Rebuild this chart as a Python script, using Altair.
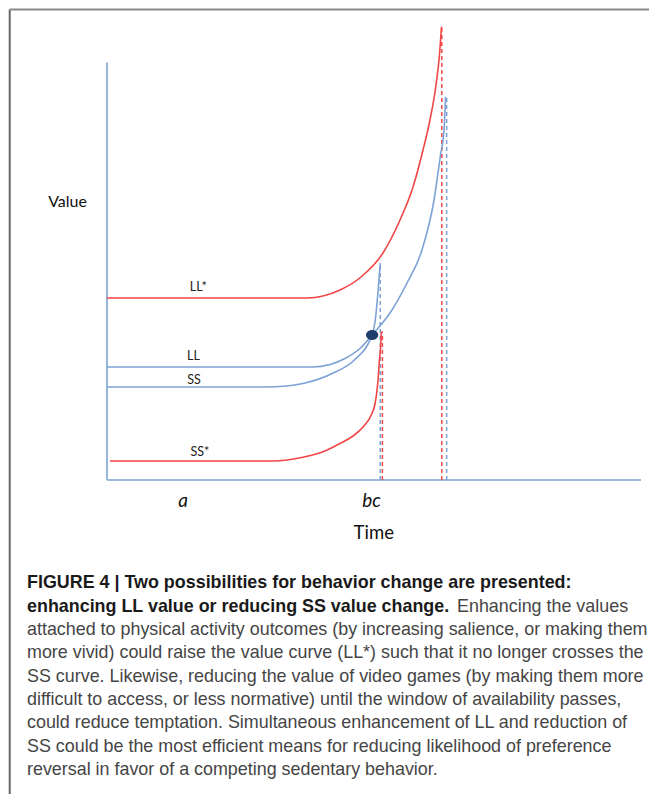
import altair as alt
import pandas as pd

# ---------------- data ----------------
# time (0..100) and value (0..115) coordinates of each discount curve
LLSTAR_T = [0, 37.22, 40.0, 43.15, 47.04, 51.11, 54.26, 56.67, 58.52, 59.81, 60.93, 61.57, 61.94]
LLSTAR_V = [45.5, 45.5, 46.0, 47.5, 50.75, 56.75, 65.0, 73.25, 82.5, 90.0, 98.75, 106.25, 113.3]

LL_T = [0, 38.15, 41.30, 44.07, 46.85, 49.07, 52.41, 55.56, 58.33, 60.56, 61.76, 62.41, 62.7]
LL_V = [28.25, 28.25, 28.88, 30.38, 32.88, 36.25, 41.75, 49.25, 57.5, 70.0, 81.25, 87.5, 95.8]

SS_T = [0, 29.6, 33.15, 36.5, 41.8, 45.8, 49.07, 49.63, 50.6]
SS_V = [23.25, 23.25, 23.5, 24.2, 26.7, 30.0, 36.25, 39.5, 54.2]

SSSTAR_T = [0.56, 30.56, 36.48, 40.37, 43.15, 45.56, 47.41, 49.02, 49.63, 49.96, 50.24, 50.44, 50.67, 50.80]
SSSTAR_V = [4.75, 4.75, 5.75, 7.25, 9.13, 11.0, 13.25, 16.5, 19.0, 22.0, 25.75, 29.75, 33.25, 37.07]

CURVE_NAMES = ["LL*", "LL", "SS", "SS*"]

# vertical dashed markers (time, top value, colour key)
DASH_T = [50.6, 51.0, 62.0, 62.9]
DASH_TOP = [54.2, 37.1, 113.3, 95.8]
DASH_KIND = ["blue", "red", "red", "blue"]

# preference-reversal point
DOT_T = [49.1]
DOT_V = [36.25]

# curve labels
LABELS = ["LL*", "LL", "SS", "SS*"]
LABEL_T = [16.9, 16.0, 16.1, 17.2]
LABEL_V = [48.3, 31.0, 25.1, 7.0]

# axis annotation texts
AXIS_TEXT = ["Value", "a", "bc", "Time"]
AXIS_T = [-7.3, 14.1, 49.0, 49.4]
AXIS_V = [69.6, -5.25, -5.25, -13.25]
AXIS_SIZE = [16, 19, 19, 18.5]
AXIS_ITALIC = [False, True, True, False]

# axis line extents
YAXIS_TOP = 104.4
XAXIS_END = 98.9

CAPTION_BOLD = [
    "FIGURE 4 | Two possibilities for behavior change are presented:",
    "enhancing LL value or reducing SS value change.",
]
CAPTION_LINE2_REST = "Enhancing the values"
CAPTION_REST = [
    "attached to physical activity outcomes (by increasing salience, or making them",
    "more vivid) could raise the value curve (LL*) such that it no longer crosses the",
    "SS curve. Likewise, reducing the value of video games (by making them more",
    "difficult to access, or less normative) until the window of availability passes,",
    "could reduce temptation. Simultaneous enhancement of LL and reduction of",
    "SS could be the most efficient means for reducing likelihood of preference",
    "reversal in favor of a competing sedentary behavior.",
]

# ---------------- styling ----------------
RED = "#F24545"
BLUE = "#7DA2D6"
DOT = "#1E3D6B"
W, H = 540, 460
xs = alt.Scale(domain=[0, 100], nice=False, zero=False)
ys = alt.Scale(domain=[0, 115], nice=False, zero=False)
X = lambda f: alt.X(f, type="quantitative", scale=xs, axis=None)
Y = lambda f: alt.Y(f, type="quantitative", scale=ys, axis=None)

rows = []
for name, ts, vs in zip(CURVE_NAMES, [LLSTAR_T, LL_T, SS_T, SSSTAR_T],
                        [LLSTAR_V, LL_V, SS_V, SSSTAR_V]):
    for i, (t, v) in enumerate(zip(ts, vs)):
        rows.append({"curve": name, "t": t, "v": v, "o": i})
curves = pd.DataFrame(rows)

curve_layer = alt.Chart(curves).mark_line(strokeWidth=1.6, interpolate="monotone").encode(
    x=X("t"), y=Y("v"),
    color=alt.Color("curve:N", scale=alt.Scale(domain=CURVE_NAMES, range=[RED, BLUE, BLUE, RED]), legend=None),
    detail="curve:N",
    order="o:Q",
)

axes_df = pd.DataFrame({"t": [0, 0], "t2": [0, XAXIS_END], "v": [0, 0], "v2": [YAXIS_TOP, 0]})
axes_layer = alt.Chart(axes_df).mark_rule(color=BLUE, strokeWidth=1.6).encode(
    x=X("t"), x2="t2", y=Y("v"), y2="v2")

dash_df = pd.DataFrame({"t": DASH_T, "top": DASH_TOP, "bottom": [0] * len(DASH_T),
                        "col": [RED if k == "red" else BLUE for k in DASH_KIND]})
dash_layer = alt.Chart(dash_df).mark_rule(strokeWidth=1.5, strokeDash=[4, 3]).encode(
    x=X("t"), y=Y("bottom"), y2="top", color=alt.Color("col:N", scale=None))

ELLIPSE = "M -1 0 A 1 0.82 0 1 0 1 0 A 1 0.82 0 1 0 -1 0 Z"
dot_layer = alt.Chart(pd.DataFrame({"t": DOT_T, "v": DOT_V})).mark_point(
    filled=True, shape=ELLIPSE, size=150, color=DOT, opacity=1).encode(x=X("t"), y=Y("v"))

lab_layer = alt.Chart(pd.DataFrame({"t": LABEL_T, "v": LABEL_V, "s": LABELS})).mark_text(
    font="Lato", fontSize=12.5, color="#222222").encode(x=X("t"), y=Y("v"), text="s:N")

ax_layers = []
for s, t, v, size, it in zip(AXIS_TEXT, AXIS_T, AXIS_V, AXIS_SIZE, AXIS_ITALIC):
    ax_layers.append(alt.Chart(pd.DataFrame({"t": [t], "v": [v], "s": [s]})).mark_text(
        font="Lato", fontSize=size, fontStyle="italic" if it else "normal", color="#111111"
    ).encode(x=X("t"), y=Y("v"), text="s:N"))

one = pd.DataFrame({"k": [0]})
frame_left = alt.Chart(one).mark_rule(color="#666666", strokeWidth=2).encode(
    x=alt.value(-97.3), y=alt.value(-10.5), y2=alt.value(800))
frame_top = alt.Chart(one).mark_rule(color="#888888", strokeWidth=2).encode(
    x=alt.value(-97.3), x2=alt.value(560), y=alt.value(-10.5))

CAP_X = -80
CAP_Y0 = 563.3
CAP_DY = 23.35
CAP_FONT = "Liberation Sans"
CAP_SIZE = 17.9
cap_layers = []
for i, line in enumerate(CAPTION_BOLD):
    cap_layers.append(alt.Chart(one).mark_text(
        align="left", baseline="middle", font=CAP_FONT, fontSize=CAP_SIZE, fontWeight="bold",
        color="#1a1a1a").encode(x=alt.value(CAP_X), y=alt.value(CAP_Y0 + i * CAP_DY), text=alt.value(line)))
cap_layers.append(alt.Chart(one).mark_text(
    align="left", baseline="middle", font=CAP_FONT, fontSize=CAP_SIZE,
    color="#454545").encode(x=alt.value(350), y=alt.value(CAP_Y0 + CAP_DY), text=alt.value(CAPTION_LINE2_REST)))
for j, line in enumerate(CAPTION_REST):
    cap_layers.append(alt.Chart(one).mark_text(
        align="left", baseline="middle", font=CAP_FONT, fontSize=CAP_SIZE,
        color="#454545").encode(x=alt.value(CAP_X), y=alt.value(CAP_Y0 + (j + 2) * CAP_DY), text=alt.value(line)))

chart = alt.layer(
    frame_left, frame_top, axes_layer, dash_layer, curve_layer, dot_layer,
    lab_layer, *ax_layers, *cap_layers
).properties(
    width=W, height=H,
    padding={"left": 99, "top": 12, "right": 2, "bottom": 314},
    autosize=alt.AutoSizeParams(type="none"),
).configure_view(stroke=None)

chart.save("out.html", embed_options={"renderer": "svg", "actions": False})
